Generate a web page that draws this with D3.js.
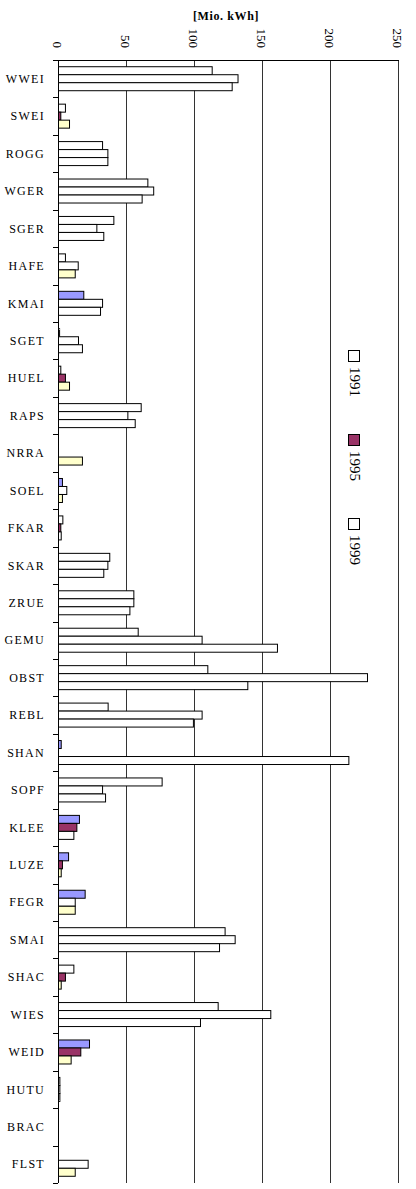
<!DOCTYPE html>
<html>
<head>
<meta charset="utf-8">
<script src="https://cdn.jsdelivr.net/npm/d3@7"></script>
<style>
    body { margin: 0; background: #fff; }
    svg { display: block; }
</style>
</head>
<body>
<svg width="416" height="1189"></svg>
<script>
// chart data
var categories = ["WWEI", "SWEI", "ROGG", "WGER", "SGER", "HAFE", "KMAI", "SGET", "HUEL", "RAPS",
    "NRRA", "SOEL", "FKAR", "SKAR", "ZRUE", "GEMU", "OBST", "REBL", "SHAN", "SOPF",
    "KLEE", "LUZE", "FEGR", "SMAI", "SHAC", "WIES", "WEID", "HUTU", "BRAC", "FLST"];
var years = ["1991", "1995", "1999"];
var values1991 = [113, 5.1, 32.4, 65.7, 40.7, 5.1, 18.6, 0.8, 1.7, 60.8,
    0, 2.9, 3.2, 37.7, 55.4, 58.6, 109.8, 36.5, 2, 76.2,
    15.4, 7.4, 19.6, 122.5, 11.3, 117.4, 22.8, 1, 0, 0];
var values1995 = [132, 1.7, 36.3, 70, 28.2, 14.5, 32.4, 14.7, 5.1, 51,
    0, 6.1, 1.7, 36.3, 55.4, 105.6, 227.2, 105.6, 0, 32.4,
    13.5, 2.9, 12.3, 129.9, 5.1, 156.1, 16.4, 1, 0, 21.8];
var values1999 = [127.7, 8.1, 36.3, 61.5, 33.3, 12.3, 30.9, 17.6, 8.1, 56.4,
    17.6, 2.9, 2, 33.3, 52.5, 161, 139.2, 99.2, 213.5, 34.6,
    11.3, 2, 12.3, 118.4, 2, 104.4, 9.3, 1, 0, 12.3];
var tickValues = [0, 50, 100, 150, 200, 250];

// which bars are drawn in the series colour (the rest are white)
var shaded1991 = [0, 0, 0, 0, 0, 0, 1, 0, 0, 0, 0, 1, 0, 0, 0, 0, 0, 0, 1, 0, 1, 1, 1, 0, 0, 0, 1, 0, 0, 0];
var shaded1995 = [0, 1, 0, 0, 0, 0, 0, 0, 1, 0, 0, 0, 1, 0, 0, 0, 0, 0, 0, 0, 1, 1, 0, 0, 1, 0, 1, 0, 0, 0];
var shaded1999 = [0, 1, 0, 0, 0, 1, 0, 0, 1, 0, 1, 1, 0, 0, 0, 0, 0, 0, 0, 0, 0, 1, 1, 0, 1, 0, 1, 0, 0, 1];

var seriesColors = { "1991": "#9999ff", "1995": "#993366", "1999": "#ffffcc" };
var legendColors = { "1991": "#ffffff", "1995": "#993366", "1999": "#ffffff" };

var font = "'Liberation Serif', 'Times New Roman', serif";

window.onload = function () {
    build_chart();
}

function build_chart() {
    var svg = d3.select("svg");

    var rows = categories.map(function (c, i) {
        return {
            name: c,
            bars: [
                { key: "1991", value: values1991[i], shaded: shaded1991[i] },
                { key: "1995", value: values1995[i], shaded: shaded1995[i] },
                { key: "1999", value: values1999[i], shaded: shaded1999[i] }
            ]
        };
    });

    // X-axis (values), drawn at the top
    var x = d3.scaleLinear()
        .domain([0, 250])
        .range([58, 398]);

    // Y-axis (categories)
    var y0 = d3.scaleBand()
        .domain(categories)
        .range([60, 1183]);

    var y1 = d3.scaleBand()
        .domain(years)
        .range([0, y0.bandwidth()])
        .paddingOuter(0.84);

    // gridlines
    svg.append("g")
        .selectAll("line")
        .data(tickValues)
        .enter().append("line")
        .attr("x1", function (d) { return Math.round(x(d)) + 0.5; })
        .attr("x2", function (d) { return Math.round(x(d)) + 0.5; })
        .attr("y1", 60)
        .attr("y2", 1183)
        .attr("stroke", function (d) { return d == 0 ? "#000" : "#333"; })
        .attr("stroke-width", 1);

    // top axis line
    svg.append("line")
        .attr("x1", 58).attr("x2", 399)
        .attr("y1", 60.5).attr("y2", 60.5)
        .attr("stroke", "#000");

    // category tick marks
    var edges = categories.map(function (c) { return y0(c); }).concat([1183]);
    svg.append("g")
        .selectAll("line")
        .data(edges)
        .enter().append("line")
        .attr("x1", 53).attr("x2", 58)
        .attr("y1", function (d) { return Math.round(d) + 0.5; })
        .attr("y2", function (d) { return Math.round(d) + 0.5; })
        .attr("stroke", "#000");

    // tick labels, rotated
    svg.append("g")
        .selectAll("text")
        .data(tickValues)
        .enter().append("text")
        .attr("transform", function (d) { return "translate(" + x(d) + ",48) rotate(90)"; })
        .attr("dy", "0.35em")
        .attr("text-anchor", "end")
        .attr("font-family", font)
        .attr("font-size", 13)
        .text(function (d) { return d; });

    // axis title
    svg.append("text")
        .attr("x", 226)
        .attr("y", 20)
        .attr("text-anchor", "middle")
        .attr("font-family", font)
        .attr("font-size", 12)
        .attr("font-weight", "bold")
        .attr("letter-spacing", 0.6)
        .text("[Mio. kWh]");

    // bars
    svg.append("g")
        .selectAll("g")
        .data(rows)
        .enter().append("g")
        .attr("transform", function (d) { return "translate(0," + y0(d.name) + ")"; })
        .selectAll("rect")
        .data(function (d) { return d.bars.filter(function (b) { return b.value > 0; }); })
        .enter().append("rect")
        .attr("x", x(0) + 0.5)
        .attr("y", function (d) { return y1(d.key); })
        .attr("width", function (d) { return x(d.value) - x(0); })
        .attr("height", y1.bandwidth())
        .attr("fill", function (d) { return d.shaded ? seriesColors[d.key] : "#fff"; })
        .attr("stroke", "#000")
        .attr("stroke-width", 1);

    // category labels
    svg.append("g")
        .selectAll("text")
        .data(categories)
        .enter().append("text")
        .attr("x", 45)
        .attr("y", function (d) { return y0(d) + y0.bandwidth() / 2; })
        .attr("dy", "0.35em")
        .attr("text-anchor", "end")
        .attr("font-family", font)
        .attr("font-size", 12)
        .attr("letter-spacing", 1.3)
        .text(function (d) { return d; });

    // legend, rotated like the tick labels
    var legend = svg.append("g")
        .selectAll("g")
        .data(years)
        .enter().append("g")
        .attr("transform", function (d, i) { return "translate(348," + (350 + i * 84) + ")"; });

    legend.append("rect")
        .attr("x", 0.5)
        .attr("y", 0.5)
        .attr("width", 11)
        .attr("height", 11)
        .attr("fill", function (d) { return legendColors[d]; })
        .attr("stroke", "#000");

    legend.append("text")
        .attr("transform", "translate(2,17) rotate(90)")
        .attr("text-anchor", "start")
        .attr("font-family", font)
        .attr("font-size", 15)
        .text(function (d) { return d; });
}
</script>
</body>
</html>
